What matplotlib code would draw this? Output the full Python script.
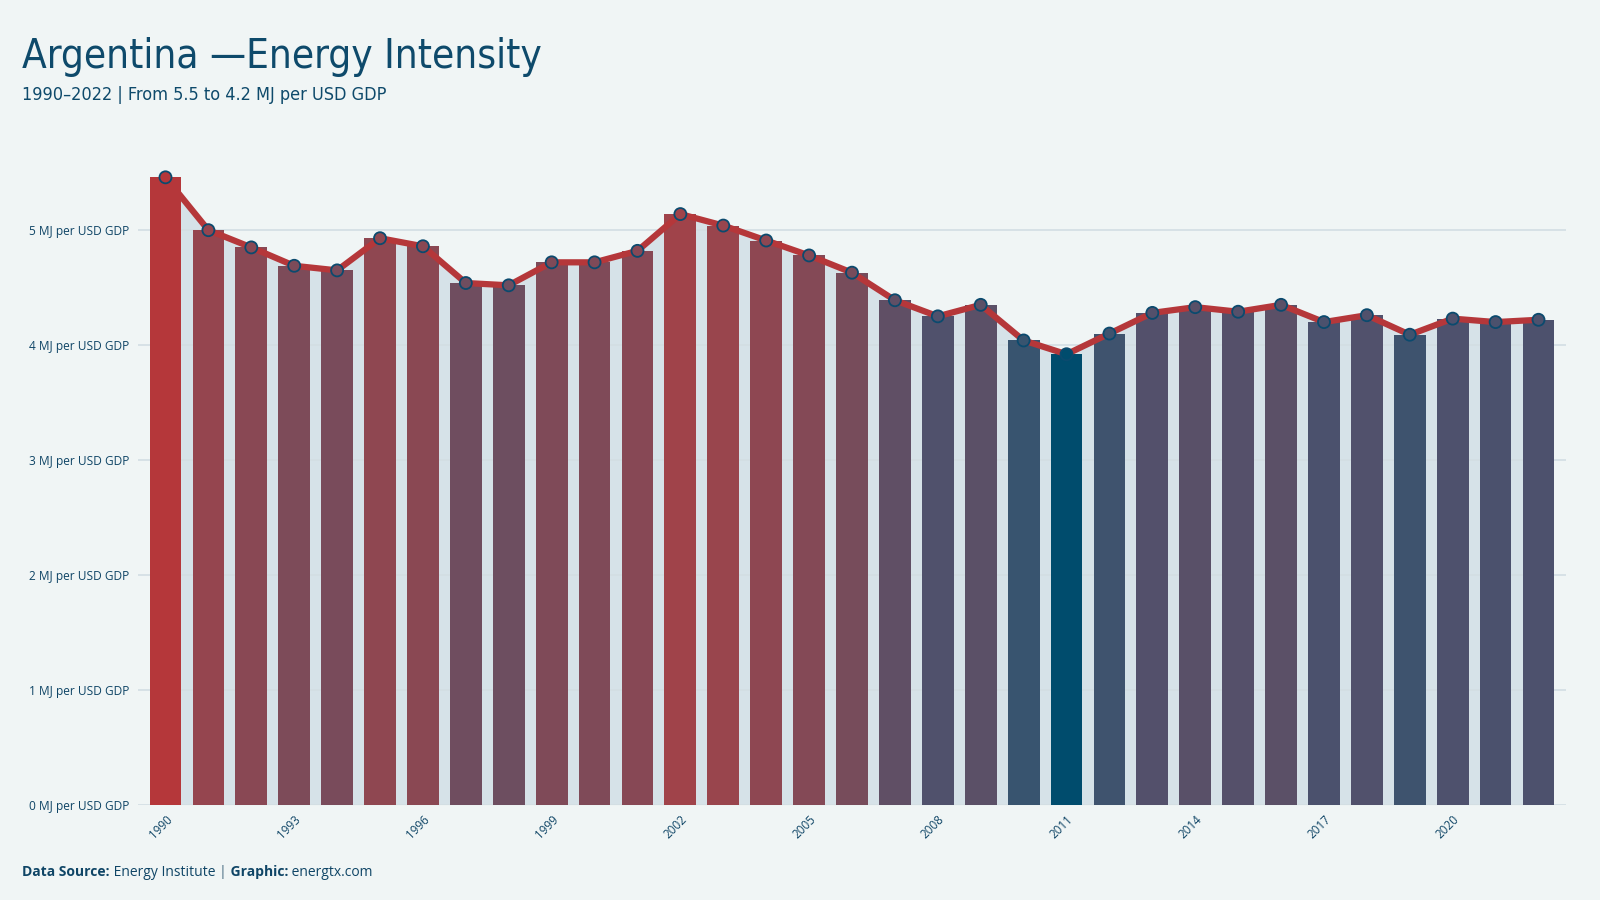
import matplotlib
matplotlib.use("Agg")
import matplotlib.pyplot as plt
import numpy as np
from matplotlib.colors import LinearSegmentedColormap, Normalize

# data
years = list(range(1990, 2023))
intensity = [5.46, 5.00, 4.85, 4.69, 4.65, 4.93, 4.86, 4.54, 4.52, 4.72,
             4.72, 4.82, 5.14, 5.04, 4.91, 4.78, 4.63, 4.39, 4.25, 4.35,
             4.04, 3.92, 4.10, 4.28, 4.33, 4.29, 4.35, 4.20, 4.26, 4.09,
             4.23, 4.20, 4.22]
y_ticks = [0, 1, 2, 3, 4, 5]
y_ticklabels = [f"{t} MJ per USD GDP" for t in y_ticks]

bg = "#f0f5f5"
txt = "#0f4566"
red = "#b5373a"

cmap = LinearSegmentedColormap.from_list("energ", [
    (0.0, "#004c6d"), (0.07, "#37546f"), (0.2, "#4e516d"),
    (0.38, "#6c4e60"), (0.52, "#7f4a58"), (0.79, "#a0434a"), (1.0, "#b5373a")])
norm = Normalize(min(intensity), max(intensity))
colors = [cmap(norm(v)) for v in intensity]

title_font = ["DejaVu Sans"]
body_font = ["Open Sans", "DejaVu Sans"]

fig = plt.figure(figsize=(16, 9), dpi=100, facecolor=bg)
ax = fig.add_axes([0.086, 0.106, 0.893, 0.734], facecolor=bg)

x = np.arange(len(years))
for t in y_ticks:
    ax.axhline(t, color="#d3dee3", lw=1.2, zorder=1)
ax.fill_between(x, intensity, 0, color="#d6e2e8", lw=0, zorder=0.8)
ax.bar(x, intensity, width=0.74, color=colors, zorder=2)
ax.plot(x, intensity, color=red, lw=4.5, zorder=3, solid_joinstyle="miter")
ax.scatter(x, intensity, s=75, c=colors, edgecolors="#0b4a6e", linewidths=1.3, zorder=4)

ax.set_xlim(-0.65, 32.65)
ax.set_ylim(0, 5.75)
ax.set_yticks(y_ticks)
ax.set_yticklabels(y_ticklabels, fontsize=8.6, color=txt, family=body_font)
ax.set_xticks(x[::3])
ax.set_xticklabels([str(y) for y in years[::3]], rotation=45, ha="right",
                   rotation_mode="anchor", fontsize=8.4, color=txt, family=body_font)
ax.tick_params(length=0, pad=6)
for s in ax.spines.values():
    s.set_visible(False)

fig.text(0.014, 0.924, "Argentina \u2014Energy Intensity", fontsize=29, color="#0e4a6b",
         family=title_font, fontstretch="condensed", va="baseline")
fig.text(0.014, 0.889, "1990\u20132022 | From 5.5 to 4.2 MJ per USD GDP", fontsize=13,
         color="#0e4a6b", family=title_font, fontstretch="condensed", va="baseline")

# footer built piece by piece
parts = [("Data Source:", "bold", txt), (" Energy Institute ", "normal", txt),
         ("|", "bold", "#7f99a8"), (" Graphic:", "bold", txt), (" energtx.com", "normal", txt)]
fig.canvas.draw()
r = fig.canvas.get_renderer()
xpos = 0.014
for s, w, c in parts:
    t = fig.text(xpos, 0.027, s, fontsize=10, fontweight=w, color=c, family=body_font,
                 va="baseline")
    bb = t.get_window_extent(renderer=r)
    xpos += bb.width / fig.bbox.width

fig.savefig("out.png", dpi=100, facecolor=bg)
